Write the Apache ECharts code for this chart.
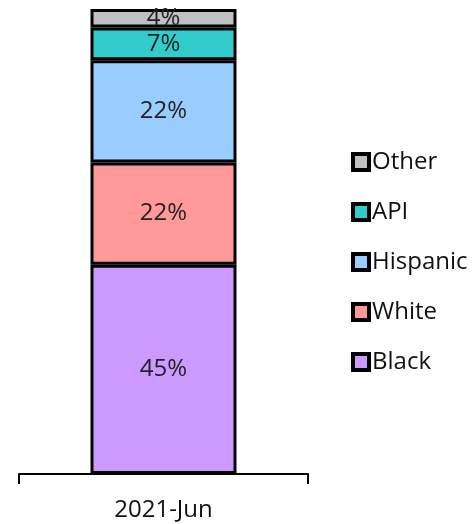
<!DOCTYPE html>
<html><head><meta charset="utf-8">
<script src="https://cdn.jsdelivr.net/npm/echarts@6/dist/echarts.min.js"></script>
<style>html,body{margin:0;padding:0;background:#fff}#c{width:472px;height:524px}</style>
</head><body><div id="c"></div>
<script>
const categories = ['2021-Jun'];
const seriesNames = ['Black', 'White', 'Hispanic', 'API', 'Other'];
const black = [45];
const white = [22];
const hispanic = [22];
const api = [7];
const other = [4];
const colors = ['#CC99FF', '#FF9999', '#99CCFF', '#33CCCC', '#C0C0C0'];
const legendOrder = ['Other', 'API', 'Hispanic', 'White', 'Black'];

const values = [black, white, hispanic, api, other];
const font = '"Open Sans", "Noto Sans", sans-serif';
const fs = 24;
const chart = echarts.init(document.getElementById('c'), null, {renderer: 'canvas'});
chart.setOption({
  animation: false,
  grid: {left: 19, right: 164, top: 9, bottom: 50},
  legend: {
    orient: 'vertical', left: 346, top: 145,
    data: legendOrder,
    itemWidth: 16, itemHeight: 16, itemGap: 26,
    icon: 'rect',
    itemStyle: {borderColor: '#000', borderWidth: 4},
    textStyle: {fontFamily: font, fontSize: fs, color: '#111', lineHeight: 24, padding: [0,0,0,-2]}
  },
  xAxis: [{
    type: 'category', data: categories,
    axisLine: {lineStyle: {color: '#000', width: 2}},
    axisTick: {show: false},
    axisLabel: {fontFamily: font, fontSize: fs, color: '#111', margin: 24}
  }, {
    type: 'value', position: 'bottom', min: 0, max: 1, interval: 1,
    axisLine: {show: false},
    axisTick: {show: true, length: 10, lineStyle: {color: '#000', width: 2}},
    axisLabel: {show: false}, splitLine: {show: false}
  }],
  yAxis: {type: 'value', min: 0, max: 100, show: false},
  series: seriesNames.map((n, i) => ({
    name: n, type: 'bar', stack: 'total', data: values[i], barWidth: 146,
    itemStyle: {color: colors[i], borderColor: '#000', borderWidth: 3},
    label: {show: true, position: 'inside', formatter: p => p.value + '%',
      fontFamily: font, fontSize: fs, color: '#222'}
  }))
});
</script></body></html>
